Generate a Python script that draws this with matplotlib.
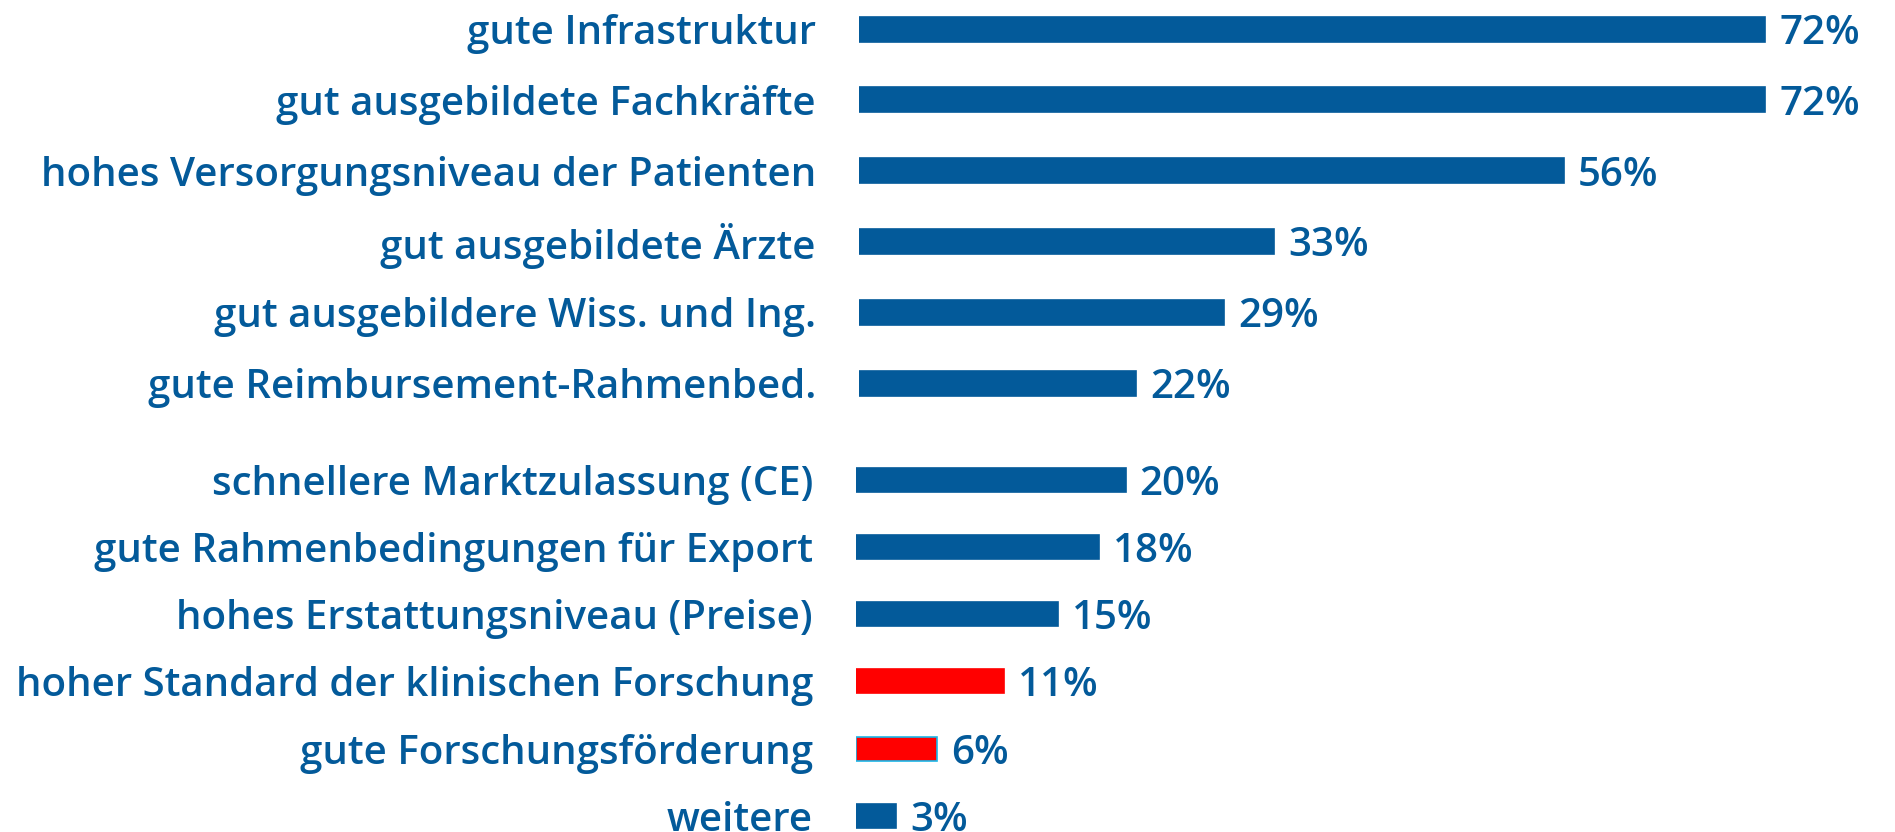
import matplotlib.pyplot as plt

plt.rcParams['font.family'] = ['Open Sans', 'DejaVu Sans']

# first block (own scale)
labels_a = ['gute Infrastruktur', 'gut ausgebildete Fachkräfte',
            'hohes Versorgungsniveau der Patienten', 'gut ausgebildete Ärzte',
            'gut ausgebildere Wiss. und Ing.', 'gute Reimbursement-Rahmenbed.']
values_a = [72, 72, 56, 33, 29, 22]

# second block (slightly different scale in the original)
labels_b = ['schnellere Marktzulassung (CE)', 'gute Rahmenbedingungen für Export',
            'hohes Erstattungsniveau (Preise)', 'hoher Standard der klinischen Forschung',
            'gute Forschungsförderung', 'weitere']
values_b = [20, 18, 15, 11, 6, 3]
colors_b = ['#035a9a', '#035a9a', '#035a9a', '#ff0000', '#ff0000', '#035a9a']
edges_b = ['#035a9a', '#035a9a', '#035a9a', '#ff0000', '#1ab6e8', '#035a9a']

blue = '#035a9a'
W, H = 1895, 832
fig = plt.figure(figsize=(W / 100, H / 100), dpi=100)


def block(left_px, top_px, bot_px, px_per_pct, row0_px, row_step, labels, values,
          colors, edges, bar_px):
    ax = fig.add_axes([left_px / W, 1 - bot_px / H,
                       (W - left_px) / W, (bot_px - top_px) / H])
    ax.set_xlim(0, (W - left_px) / px_per_pct)
    ax.set_ylim((bot_px - row0_px) / row_step, (top_px - row0_px) / row_step)
    ys = list(range(len(values)))
    ax.barh(ys, values, height=bar_px / row_step, color=colors,
            edgecolor=edges, linewidth=1.2)
    for y, v in zip(ys, values):
        ax.annotate(f'{v}%', (v, y), xytext=(10, 0), textcoords='offset points',
                    va='center_baseline', ha='left', color=blue, fontsize=29,
                    fontweight='semibold')
    ax.set_yticks(ys)
    ax.set_yticklabels(labels, color=blue, fontsize=29, fontweight='semibold')
    ax.tick_params(axis='y', length=0, pad=31)
    ax.set_xticks([])
    for s in ax.spines.values():
        s.set_visible(False)
    ax.patch.set_alpha(0)
    return ax


block(859, 0, 420, 12.59, 29.0, 70.8, labels_a, values_a,
      [blue] * len(values_a), [blue] * len(values_a), 25)
block(856, 440, 832, 13.48, 479.8, 67.2, labels_b, values_b,
      colors_b, edges_b, 24)

fig.savefig('out.png', dpi=100)
